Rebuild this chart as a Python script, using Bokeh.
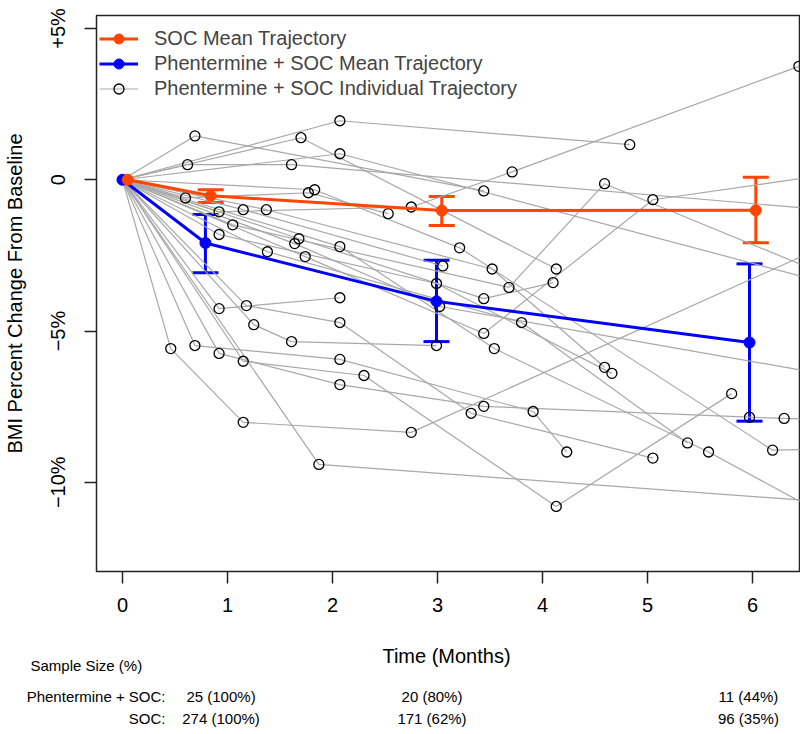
from bokeh.plotting import figure
from bokeh.layouts import column
from bokeh.models import (Range1d, FixedTicker, Whisker, TeeHead, ColumnDataSource,
                          Legend, LegendItem)
from bokeh.core.properties import value
from bokeh.embed import file_html
from bokeh.resources import INLINE

FONT = "Liberation Sans"

# ---------------- data ----------------
month_ticks = [0, 1, 2, 3, 4, 5, 6]
pct_ticks = [-10, -5, 0, 5]
pct_labels = ["\u221210%", "\u22125%", "0", "+5%"]

soc_time = [0.05, 0.84, 3.04, 6.03]
soc_mean = [0.0, -0.53, -1.02, -1.01]
soc_lower = [-0.75, -1.51, -2.08]
soc_upper = [-0.33, -0.55, 0.08]

phen_time = [0.0, 0.79, 2.99, 5.97]
phen_mean = [0.0, -2.09, -4.02, -5.38]
phen_lower = [-3.07, -5.35, -7.98]
phen_upper = [-1.15, -2.66, -2.78]

indiv_times = [
    [0, 0.69, 3.44],
    [0, 0.62, 1.61, 6.90],
    [0, 1.70, 4.13],
    [0, 2.07, 4.83],
    [0, 2.07, 6.80],
    [0, 0.60, 1.77, 2.53],
    [0, 1.83, 3.21, 6.19, 6.90],
    [0, 0.92, 2.75, 3.71, 6.44],
    [0, 1.15, 3.05],
    [0, 1.37, 3.52, 4.59],
    [0, 1.05, 3.68, 4.59, 6.90],
    [0, 0.92, 2.99, 4.66],
    [0, 1.68, 3.44, 4.10],
    [0, 1.64, 3.02, 6.90],
    [0, 1.38, 3.80, 5.38],
    [0, 1.74, 3.44, 5.05, 6.90],
    [0, 2.07, 3.54, 5.58, 6.90],
    [0, 0.92, 2.07],
    [0, 1.18, 2.07, 3.32, 5.05],
    [0, 1.25, 1.61, 2.99],
    [0, 0.46, 1.15, 2.75, 7.00],
    [0, 0.69, 2.07, 3.91, 4.23],
    [0, 0.92, 2.07, 3.44, 5.97, 6.30, 6.90],
    [0, 1.15, 2.30, 4.13, 5.80],
    [0, 1.87, 6.90],
]
indiv_values = [
    [0, 1.45, -0.37],
    [0, 0.50, 0.50, -1.05],
    [0, 1.39, -2.95],
    [0, 1.95, 1.16],
    [0, 0.86, -3.50],
    [0, -0.60, -0.43, -1.12],
    [0, -0.33, -2.25, -8.94, -8.88],
    [0, -1.06, -0.90, 0.26, 3.75],
    [0, -0.99, -2.85],
    [0, -0.99, -2.95, -6.20],
    [0, -1.49, -3.56, -0.13, -3.43],
    [0, -1.81, -3.43, -6.40],
    [0, -1.95, -3.93, -3.40],
    [0, -2.11, -4.19, -6.56],
    [0, -2.38, -4.72, -8.70],
    [0, -2.54, -5.08, -0.66, 0.26],
    [0, -2.21, -5.58, -9.00, -11.48],
    [0, -4.26, -3.90],
    [0, -4.16, -4.72, -7.72, -9.20],
    [0, -4.79, -5.35, -5.48],
    [0, -5.58, -8.02, -8.35, -1.70],
    [0, -5.48, -5.94, -7.66, -9.00],
    [0, -5.74, -6.77, -7.49, -7.85, -7.89, -7.95],
    [0, -6.00, -6.47, -10.80, -7.07],
    [0, -9.41, -10.70],
]

sample_months = [1, 3, 6]
phen_counts = [25, 20, 11]
phen_pcts = [100, 80, 44]
soc_counts = [274, 171, 96]
soc_pcts = [100, 62, 35]

ORANGE = "#FF4500"
BLUE = "#0000FF"
GRAY = "#A8A8A8"

# ---------------- main figure ----------------
W = 800
X0, X1 = -0.247, 6.446
BL, BR = 93, 1
p = figure(width=W, height=625,
           x_range=Range1d(X0, X1), y_range=Range1d(-12.95, 5.43),
           output_backend="svg", toolbar_location=None,
           min_border_left=BL, min_border_right=BR, min_border_top=15,
           min_border_bottom=54)
p.frame_align = False
p.grid.visible = False
p.outline_line_color = "#222222"
p.outline_line_width = 1.5

for ax in (p.xaxis[0], p.yaxis[0]):
    ax.axis_line_color = None
    ax.major_tick_in = 0
    ax.major_tick_out = 12
    ax.major_tick_line_width = 1.5
    ax.major_tick_line_color = "#222222"
    ax.minor_tick_line_color = None
    ax.major_label_text_font = FONT
    ax.major_label_text_font_size = "20px"
    ax.major_label_text_color = "black"
    ax.axis_label_text_font = FONT
    ax.axis_label_text_font_size = "20px"
    ax.axis_label_text_font_style = "normal"
    ax.axis_label_text_color = "black"

p.xaxis.ticker = FixedTicker(ticks=month_ticks)
p.xaxis.major_label_standoff = 14

p.yaxis.ticker = FixedTicker(ticks=pct_ticks)
p.yaxis.major_label_overrides = {t: lab for t, lab in zip(pct_ticks, pct_labels)}
p.yaxis.major_label_orientation = "vertical"
p.yaxis.major_label_standoff = 15
p.yaxis.axis_label = "BMI Percent Change From Baseline"
p.yaxis.axis_label_standoff = 19

# individual trajectories
indiv_lines = p.multi_line(xs=indiv_times, ys=indiv_values, line_color=GRAY, line_width=1.2)
pt_x = [t for ts in indiv_times for t in ts[1:]]
pt_y = [v for vs in indiv_values for v in vs[1:]]
indiv_pts = p.scatter(pt_x, pt_y, size=10, marker="circle", fill_color=None,
                      line_color="black", line_width=1.3)

# mean trajectories with error bars
def mean_series(times, means, lower, upper, color):
    line = p.line(times, means, line_color=color, line_width=3)
    src = ColumnDataSource(dict(x=times[1:], lower=lower, upper=upper))
    w = Whisker(base="x", lower="lower", upper="upper", source=src,
                line_color=color, line_width=3,
                upper_head=TeeHead(size=26, line_color=color, line_width=3),
                lower_head=TeeHead(size=26, line_color=color, line_width=3))
    p.add_layout(w)
    pts = p.scatter(times, means, size=11, marker="circle", fill_color=color,
                    line_color=color)
    return line, pts

phen_line, phen_pts = mean_series(phen_time, phen_mean, phen_lower, phen_upper, BLUE)
soc_line, soc_pts = mean_series(soc_time, soc_mean, soc_lower, soc_upper, ORANGE)

legend = Legend(items=[
    LegendItem(label="SOC Mean Trajectory", renderers=[soc_line, soc_pts]),
    LegendItem(label="Phentermine + SOC Mean Trajectory", renderers=[phen_line, phen_pts]),
    LegendItem(label="Phentermine + SOC Individual Trajectory", renderers=[indiv_lines, indiv_pts]),
], location=(3, 470), margin=0, padding=5, spacing=0,
   glyph_width=39, glyph_height=25, label_height=25, label_standoff=16,
   label_text_font=FONT, label_text_font_size="20px",
   background_fill_alpha=0, border_line_color=None)
p.add_layout(legend)

# ---------------- lower panel: x-axis title + sample-size table ----------------
scale = (W - BL - BR) / (X1 - X0)
q_x0 = X0 - BL / scale
q_x1 = X1 + BR / scale
QH = 109
q = figure(width=W, height=QH, x_range=Range1d(q_x0, q_x1), y_range=Range1d(QH, 0),
           output_backend="svg", toolbar_location=None,
           x_axis_type=None, y_axis_type=None, min_border=0)
q.frame_align = False
q.grid.visible = False
q.outline_line_color = None

def put(x, y, texts, size, align, dx=0):
    q.text(x=x, y=y, text=texts, text_font=value(FONT), text_font_size=value(size),
           text_align=value(align), text_baseline=value("middle"), text_color="black",
           x_offset=dx)

put([(X0 + X1) / 2], [30.5], ["Time (Months)"], "20px", "center")
put([q_x0 + 30 / scale], [39.8], ["Sample Size (%)"], "15px", "left")
put([q_x0 + 165 / scale] * 2, [70.5, 92.5], ["Phentermine + SOC:", "SOC:"], "15px", "right")
put(sample_months, [70.5] * 3, [f"{c} ({pc}%)" for c, pc in zip(phen_counts, phen_pcts)],
    "15px", "center", dx=-4)
put(sample_months, [92.5] * 3, [f"{c} ({pc}%)" for c, pc in zip(soc_counts, soc_pcts)],
    "15px", "center", dx=-4)

layout = column(p, q, spacing=0)
open("out.html", "w").write(file_html(layout, INLINE))
